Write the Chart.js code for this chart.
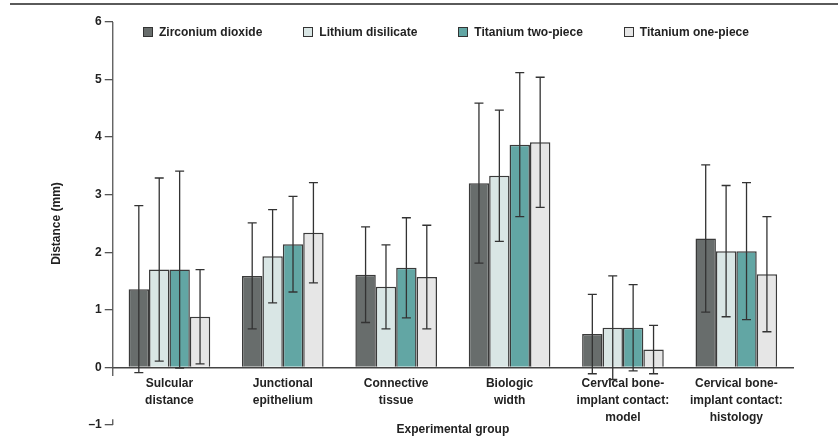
<!DOCTYPE html>
<html>
<head>
<meta charset="utf-8">
<script src="https://cdn.jsdelivr.net/npm/chart.js@4"></script>
<style>
  body { margin: 0; background: #fff; }
  .wrap { position: relative; width: 838px; height: 446px; }
  .topline { position: absolute; top: 3px; left: 10px; right: 0; height: 2px; background: #5a5a5a; }
  .legend { position: absolute; top: 25px; left: 143px; display: flex; gap: 41px;
            font: bold 12px "Liberation Sans", Arial, sans-serif; color: #222; }
  .legend span { display: inline-flex; align-items: center; }
  .legend i { display: inline-block; width: 8px; height: 8px; border: 1px solid #333; margin-right: 6px; }
</style>
</head>
<body>
<div class="wrap">
  <div class="topline"></div>
  <canvas id="myChart" width="838" height="446"></canvas>
  <div class="legend" id="legend"></div>
</div>
<script>
// data (mean and SD, mm)
var categories = [
    ['Sulcular', 'distance'],
    ['Junctional', 'epithelium'],
    ['Connective', 'tissue'],
    ['Biologic', 'width'],
    ['Cervical bone-', 'implant contact:', 'model'],
    ['Cervical bone-', 'implant contact:', 'histology']
];
var seriesNames = ['Zirconium dioxide', 'Lithium disilicate', 'Titanium two-piece', 'Titanium one-piece'];

var zirconia     = [1.36, 1.59, 1.61, 3.20, 0.58, 2.24];
var zirconiaSd   = [1.45, 0.92, 0.83, 1.39, 0.69, 1.28];
var lithium      = [1.70, 1.93, 1.40, 3.33, 0.69, 2.02];
var lithiumSd    = [1.59, 0.81, 0.73, 1.14, 0.90, 1.14];
var tiTwoPiece   = [1.70, 2.14, 1.73, 3.87, 0.69, 2.02];
var tiTwoPieceSd = [1.71, 0.83, 0.87, 1.25, 0.75, 1.19];
var tiOnePiece   = [0.88, 2.34, 1.57, 3.91, 0.31, 1.62];
var tiOnePieceSd = [0.82, 0.87, 0.90, 1.13, 0.42, 1.00];

var yTicks = [-1, 0, 1, 2, 3, 4, 5, 6];

var colors = ['#686d6c', '#d9e6e5', '#62a6a4', '#e6e6e6'];
var font = { family: '"Liberation Sans", Arial, sans-serif', size: 12, weight: 'bold' };

// error bars drawn on top of all bars
var errorBars = {
    id: 'errorBars',
    afterDatasetsDraw: function (chart) {
        var ctx = chart.ctx, y = chart.scales.y;
        ctx.save();
        ctx.strokeStyle = '#333';
        ctx.lineWidth = 1.3;
        chart.data.datasets.forEach(function (ds, i) {
            chart.getDatasetMeta(i).data.forEach(function (bar, j) {
                var top = y.getPixelForValue(ds.data[j] + ds.sd[j]);
                var bot = y.getPixelForValue(ds.data[j] - ds.sd[j]);
                ctx.beginPath();
                ctx.moveTo(bar.x, top); ctx.lineTo(bar.x, bot);
                ctx.moveTo(bar.x - 4.5, top); ctx.lineTo(bar.x + 4.5, top);
                ctx.moveTo(bar.x - 4.5, bot); ctx.lineTo(bar.x + 4.5, bot);
                ctx.stroke();
            });
        });
        ctx.restore();
    }
};

// broken y axis line (gap between 0 and -1)
var brokenAxis = {
    id: 'brokenAxis',
    afterDraw: function (chart) {
        var ctx = chart.ctx, y = chart.scales.y, x = chart.chartArea.left;
        ctx.save();
        ctx.strokeStyle = '#555';
        ctx.lineWidth = 1.3;
        ctx.beginPath();
        ctx.moveTo(x, y.getPixelForValue(6)); ctx.lineTo(x, y.getPixelForValue(-0.15));
        ctx.moveTo(x, y.getPixelForValue(-0.9)); ctx.lineTo(x, y.getPixelForValue(-1));
        ctx.stroke();
        ctx.restore();
    }
};

var means = [zirconia, lithium, tiTwoPiece, tiOnePiece];
var sds = [zirconiaSd, lithiumSd, tiTwoPieceSd, tiOnePieceSd];

var ctx = document.getElementById('myChart').getContext('2d');
var chart = new Chart(ctx, {
    type: 'bar',
    data: {
        labels: categories,
        datasets: seriesNames.map(function (name, i) {
            return {
                label: name,
                data: means[i],
                sd: sds[i],
                backgroundColor: colors[i],
                borderColor: '#3a3a3a',
                borderWidth: 1.5,
                barPercentage: 1.0,
                categoryPercentage: 0.72
            };
        })
    },
    options: {
        responsive: false,
        animation: false,
        layout: { padding: { left: 49, right: 45, top: 22, bottom: 21 } },
        plugins: {
            legend: { display: false },
            tooltip: { enabled: false }
        },
        scales: {
            x: {
                position: { y: 0 },
                grid: { display: false, drawTicks: false },
                border: { display: true, color: '#444', width: 1.5 },
                ticks: { font: Object.assign({ lineHeight: 1.42 }, font), color: '#222', padding: 8, maxRotation: 0, autoSkip: false },
                title: { display: true, text: 'Experimental group', font: font, color: '#222', padding: { top: -12, bottom: 0 } }
            },
            y: {
                min: -1,
                max: 6,
                afterBuildTicks: function (axis) {
                    axis.ticks = yTicks.map(function (v) { return { value: v }; });
                },
                grid: { drawOnChartArea: false, tickLength: 8, tickColor: '#555', lineWidth: 1.3 },
                border: { display: false },
                ticks: {
                    font: font, color: '#222', padding: 3,
                    callback: function (v) { return String(v).replace('-', '\u2013'); }
                },
                title: { display: true, text: 'Distance (mm)', font: font, color: '#222', padding: { top: 0, bottom: 22 } }
            }
        }
    },
    plugins: [errorBars, brokenAxis]
});

// legend as html, built from the chart datasets
var legend = document.getElementById('legend');
chart.data.datasets.forEach(function (ds) {
    var item = document.createElement('span');
    var box = document.createElement('i');
    box.style.background = ds.backgroundColor;
    item.appendChild(box);
    item.appendChild(document.createTextNode(ds.label));
    legend.appendChild(item);
});
</script>
</body>
</html>
